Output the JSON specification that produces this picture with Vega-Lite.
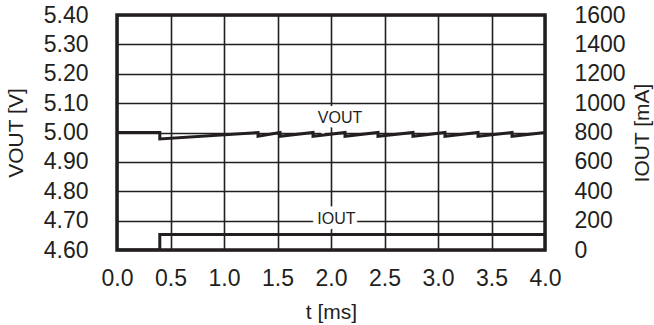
{
  "$schema": "https://vega.github.io/schema/vega-lite/v6.json",
  "width": 428,
  "height": 235,
  "autosize": {"type": "none"},
  "padding": {"left": 117, "top": 15, "right": 109, "bottom": 75},
  "background": "white",
  "config": {
    "view": {"stroke": "#231f20", "strokeWidth": 3.5},
    "font": "Liberation Sans",
    "axis": {
      "domain": false,
      "ticks": false,
      "tickSize": 0,
      "labelOverlap": false,
      "labelFlush": false,
      "labelBound": false,
      "labelFont": "Liberation Sans",
      "labelFontSize": 23,
      "labelColor": "#231f20",
      "titleFont": "Liberation Sans",
      "titleFontSize": 21,
      "titleFontWeight": "normal",
      "titleColor": "#231f20",
      "gridColor": "#231f20",
      "gridWidth": 1.6,
      "gridOpacity": 1
    }
  },
  "datasets": {
    "vout": [
      {"i": 0, "t": 0.0, "v": 5.0},
      {"i": 1, "t": 0.40, "v": 5.0},
      {"i": 2, "t": 0.40, "v": 4.978},
      {"i": 3, "t": 1.318, "v": 5.0},
      {"i": 4, "t": 1.318, "v": 4.987},
      {"i": 5, "t": 1.523, "v": 5.0},
      {"i": 6, "t": 1.523, "v": 4.987},
      {"i": 7, "t": 1.832, "v": 5.0},
      {"i": 8, "t": 1.832, "v": 4.987},
      {"i": 9, "t": 2.131, "v": 5.0},
      {"i": 10, "t": 2.131, "v": 4.987},
      {"i": 11, "t": 2.439, "v": 5.0},
      {"i": 12, "t": 2.439, "v": 4.987},
      {"i": 13, "t": 2.766, "v": 5.0},
      {"i": 14, "t": 2.766, "v": 4.987},
      {"i": 15, "t": 3.065, "v": 5.0},
      {"i": 16, "t": 3.065, "v": 4.987},
      {"i": 17, "t": 3.374, "v": 5.0},
      {"i": 18, "t": 3.374, "v": 4.987},
      {"i": 19, "t": 3.692, "v": 5.0},
      {"i": 20, "t": 3.692, "v": 4.987},
      {"i": 21, "t": 4.0, "v": 5.0}
    ],
    "iout": [
      {"i": 0, "t": 0.0, "ma": 0},
      {"i": 1, "t": 0.40, "ma": 0},
      {"i": 2, "t": 0.40, "ma": 105},
      {"i": 3, "t": 4.0, "ma": 105}
    ],
    "vlabel": [{"t": 2.084, "v": 5.032, "label": "VOUT"}],
    "ilabel": [{"t": 2.05, "ma": 208, "label": "IOUT"}]
  },
  "layer": [
    {
      "encoding": {
        "x": {
          "field": "t", "type": "quantitative",
          "scale": {"domain": [0, 4], "nice": false, "zero": false},
          "axis": {
            "title": "t [ms]",
            "values": [0, 0.5, 1, 1.5, 2, 2.5, 3, 3.5, 4],
            "tickCount": 30,
            "format": ".1f",
            "labelPadding": 17,
            "titlePadding": 11,
            "grid": true
          }
        },
        "y": {
          "field": "v", "type": "quantitative",
          "scale": {"domain": [4.6, 5.4], "nice": false, "zero": false},
          "axis": {
            "orient": "left",
            "title": "VOUT [V]",
            "values": [4.6, 4.7, 4.8, 4.9, 5.0, 5.1, 5.2, 5.3, 5.4],
            "tickCount": 30,
            "format": ".2f",
            "labelPadding": 29,
            "titlePadding": 17,
            "grid": true
          }
        }
      },
      "layer": [
        {
          "data": {"name": "vlabel"},
          "mark": {"type": "text", "fontSize": 16, "font": "Liberation Sans", "align": "center", "baseline": "alphabetic", "fill": "white", "stroke": "white", "strokeWidth": 10},
          "encoding": {"text": {"field": "label"}}
        },
        {
          "data": {"name": "vlabel"},
          "mark": {"type": "text", "fontSize": 16, "font": "Liberation Sans", "align": "center", "baseline": "alphabetic", "color": "#231f20"},
          "encoding": {"text": {"field": "label"}}
        },
        {
          "data": {"name": "vout"},
          "mark": {"type": "line", "color": "#231f20", "strokeWidth": 3, "clip": true},
          "encoding": {"order": {"field": "i", "type": "quantitative"}}
        }
      ]
    },
    {
      "encoding": {
        "x": {"field": "t", "type": "quantitative"},
        "y": {
          "field": "ma", "type": "quantitative",
          "scale": {"domain": [0, 1600], "nice": false},
          "axis": {
            "orient": "right",
            "title": "IOUT [mA]",
            "titleAngle": 270,
            "titleBaseline": "top",
            "values": [0, 200, 400, 600, 800, 1000, 1200, 1400, 1600],
            "tickCount": 30,
            "format": "d",
            "labelPadding": 29,
            "titlePadding": 6,
            "grid": false
          }
        }
      },
      "layer": [
        {
          "data": {"name": "ilabel"},
          "mark": {"type": "text", "fontSize": 16, "font": "Liberation Sans", "align": "center", "baseline": "middle", "fill": "white", "stroke": "white", "strokeWidth": 11},
          "encoding": {"text": {"field": "label"}}
        },
        {
          "data": {"name": "ilabel"},
          "mark": {"type": "text", "fontSize": 16, "font": "Liberation Sans", "align": "center", "baseline": "middle", "color": "#231f20"},
          "encoding": {"text": {"field": "label"}}
        },
        {
          "data": {"name": "iout"},
          "mark": {"type": "line", "color": "#231f20", "strokeWidth": 3, "clip": true},
          "encoding": {"order": {"field": "i", "type": "quantitative"}}
        }
      ]
    }
  ],
  "resolve": {"scale": {"y": "independent"}}
}
